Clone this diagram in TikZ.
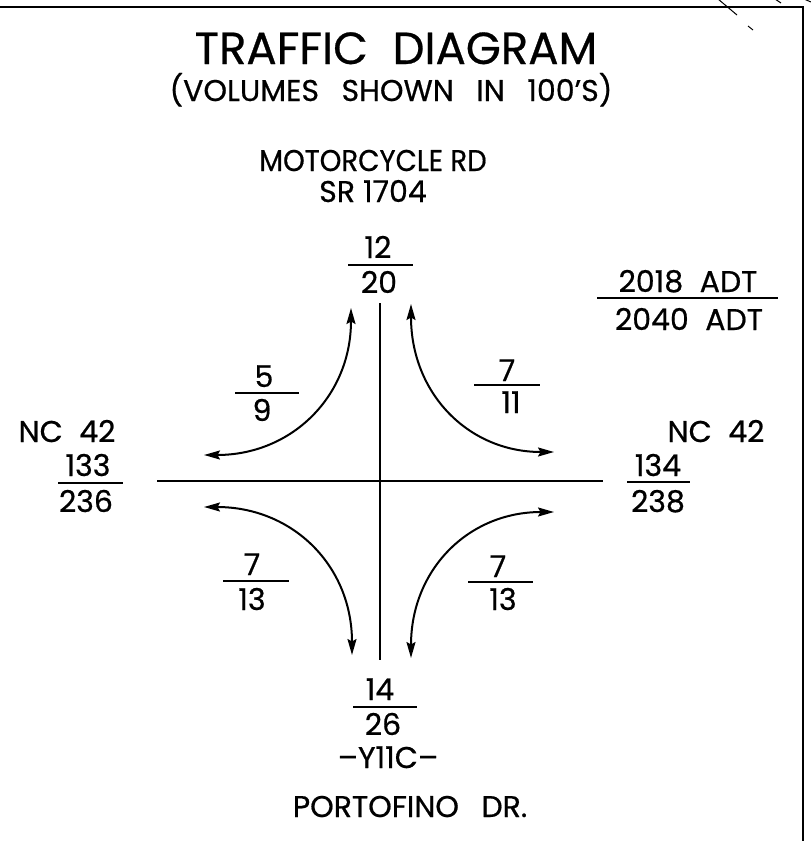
\documentclass[tikz,border=0pt]{standalone}
\usepackage{fontspec}
\setmainfont{Poppins}[FakeBold=0.6]
\usetikzlibrary{arrows.meta}
\newcommand{\gap}{\hspace{0.55em}}
\newcommand{\wgap}{\hspace{0.75em}}
\begin{document}
\begin{tikzpicture}[x=1pt,y=-1pt,
  lbl/.style={anchor=base, inner sep=0pt, font=\fontsize{30}{32}\selectfont},
  ttl/.style={anchor=base, inner sep=0pt, font=\fontsize{45}{48}\selectfont},
  sub/.style={anchor=base, inner sep=0pt, font=\fontsize{30}{32}\selectfont},
  road/.style={line width=2pt},
  bar/.style={line width=2.4pt},
  frame/.style={line width=2.6pt},
  trace/.style={line width=1pt},
  tip/.tip={Stealth[length=16pt,width=9pt,inset=2.5pt]},
  mv/.style={line width=2pt, tip-tip}
]
\useasboundingbox (0,0) rectangle (811,841);

% frame
\coordinate (f1) at (0,7);
\coordinate (f2) at (803,7);
\coordinate (f3) at (803,841);
\draw[frame] (f1) -- (f2) -- (f3);
\coordinate (d1) at (718,-1); \coordinate (d2) at (737,15);
\coordinate (d3) at (748,26); \coordinate (d4) at (753,30);
\coordinate (d5) at (775,-1); \coordinate (d6) at (781,3);
\coordinate (d7) at (804,-1); \coordinate (d8) at (811,2);
\draw[trace] (d1) -- (d2);
\draw[trace] (d3) -- (d4);
\draw[trace] (d5) -- (d6);
\draw[trace] (d7) -- (d8);

% titles
\node[ttl] (title) at (396,64) {TRAFFIC\gap DIAGRAM};
\node[sub] (subtitle) at (391,101) {(VOLUMES\wgap SHOWN\wgap IN\wgap 100’S)};
\node[sub] (north1) at (373,171) {\scalebox{0.92}[1]{MOTORCYCLE RD}};
\node[sub] (north2) at (373,202) {SR 1704};
\node[sub] (south) at (410,817) {PORTOFINO\wgap DR.};
\node[sub] (westname) at (67,442) {NC\gap 42};
\node[sub] (eastname) at (716,442) {NC\gap 42};

% legend
\node[sub] (leg1) at (688,292) {2018\gap ADT};
\coordinate (lgA) at (597,298); \coordinate (lgB) at (778,298);
\draw[bar] (lgA) -- (lgB);
\node[sub] (leg2) at (689,330) {2040\gap ADT};

% roads
\coordinate (vN) at (380,303); \coordinate (vS) at (380,660);
\coordinate (hW) at (157,481); \coordinate (hE) at (603,481);
\draw[road] (vN) -- (vS);
\draw[road] (hW) -- (hE);

% north approach
\node[lbl] (n1) at (378,258) {12};
\coordinate (nbA) at (348,265); \coordinate (nbB) at (413,265);
\draw[bar] (nbA) -- (nbB);
\node[lbl] (n2) at (379,293) {20};

% south approach
\node[lbl] (s1) at (380,700) {14};
\coordinate (sbA) at (353,707); \coordinate (sbB) at (417,707);
\draw[bar] (sbA) -- (sbB);
\node[lbl] (s2) at (383,735) {26};
\node[sub] (s3) at (388,768) {–Y11C–};

% west approach
\node[lbl] (w1) at (88,476) {133};
\coordinate (wbA) at (58,483); \coordinate (wbB) at (123,483);
\draw[bar] (wbA) -- (wbB);
\node[lbl] (w2) at (86,512) {236};

% east approach
\node[lbl] (e1) at (658,476) {134};
\coordinate (ebA) at (627,482); \coordinate (ebB) at (690,482);
\draw[bar] (ebA) -- (ebB);
\node[lbl] (e2) at (658,512) {238};

% turning volumes
\node[lbl] (nw1) at (264,387) {5};
\coordinate (nwA) at (235,393); \coordinate (nwB) at (299,393);
\draw[bar] (nwA) -- (nwB);
\node[lbl] (nw2) at (262,421) {9};

\node[lbl] (ne1) at (507,381) {7};
\coordinate (neA) at (474,385); \coordinate (neB) at (540,385);
\draw[bar] (neA) -- (neB);
\node[lbl] (ne2) at (511,413) {11};

\node[lbl] (sw1) at (252,575) {7};
\coordinate (swA) at (223,581); \coordinate (swB) at (289,581);
\draw[bar] (swA) -- (swB);
\node[lbl] (sw2) at (252,610) {13};

\node[lbl] (se1) at (498,577) {7};
\coordinate (seA) at (468,582); \coordinate (seB) at (533,582);
\draw[bar] (seA) -- (seB);
\node[lbl] (se2) at (503,610) {13};

% movement arcs
\coordinate (ulT) at (351,308); \coordinate (ulL) at (204,455);
\coordinate (urT) at (411,304); \coordinate (urR) at (554,452);
\coordinate (llL) at (204,507); \coordinate (llB) at (352,655);
\coordinate (lrB) at (411,658); \coordinate (lrR) at (554,512);
\draw[mv] (ulT) .. controls (351,396) and (292,455) .. (ulL);
\draw[mv] (urT) .. controls (411,393) and (468,452) .. (urR);
\draw[mv] (llL) .. controls (293,507) and (352,566) .. (llB);
\draw[mv] (lrB) .. controls (411,570) and (468,512) .. (lrR);
\end{tikzpicture}
\end{document}
